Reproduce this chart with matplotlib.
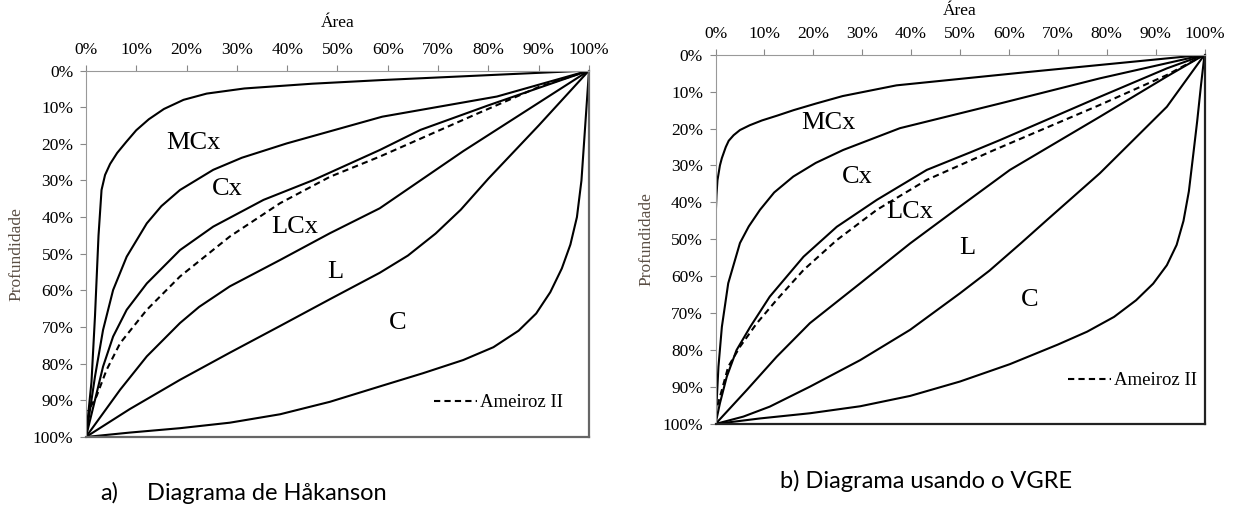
import matplotlib
matplotlib.use("Agg")
import matplotlib.pyplot as plt
import numpy as np

# (area %, depth %)
hak_mcx = [(100, 0), (58.9, 2.6), (45, 3.6), (31.5, 4.9), (24, 6.3), (19.4, 8), (15.5, 10.5),
           (12.5, 13.3), (10, 16.3), (8, 19.5), (6.2, 22.5), (4.8, 25.5), (3.8, 28.5),
           (3.1, 32.6), (2.5, 45), (1.8, 67), (1.1, 85), (0, 100)]
hak_cx = [(100, 0), (81.7, 7.1), (58.9, 12.6), (39.9, 19.9), (31, 23.8), (25.3, 27.1),
          (18.7, 32.6), (15, 37), (12.1, 41.7), (8.1, 50.8), (5.4, 59.9), (3.4, 70.8),
          (1.8, 83.5), (0, 100)]
hak_lcx = [(100, 0), (80, 9.5), (66.5, 16.2), (58.4, 21.7), (45.2, 29.9), (35.3, 35.3),
           (25.3, 42.6), (18.7, 49), (12.1, 58.1), (8.1, 65.3), (5.4, 72.6), (3.4, 80.8),
           (1.8, 89.9), (0, 100)]
hak_l = [(100, 0), (75, 22), (58.4, 37.6), (48.5, 44.4), (38.6, 51.7), (28.6, 58.9),
         (22.5, 64.5), (18.7, 68.9), (12.1, 78), (6.8, 87.1), (0, 100)]
hak_lc = [(100, 0), (90, 15), (80, 29.5), (74.5, 38), (69.5, 44.5), (64, 50.5), (58.4, 55.2),
          (48.5, 62.4), (38.6, 69.7), (28.6, 77), (18.7, 84.4), (8.7, 92.4), (0, 100)]
hak_c = [(100, 0), (99.5, 10), (99, 20), (98.5, 30), (97.6, 40), (96.3, 47.5), (94.6, 54),
         (92.3, 60.5), (89.5, 66.3), (86, 71), (81, 75.5), (75, 79), (67, 82.6), (58.9, 86),
         (48.5, 90.4), (38.6, 93.8), (28.6, 96.1), (18.7, 97.6), (8.7, 98.8), (0, 100)]
hak_ameiroz = [(100, 0), (90, 4.5), (77.9, 11.7), (58.4, 23.5), (48.5, 29), (38.6, 36.2),
               (28.6, 45.3), (18.7, 56.2), (12.1, 65.3), (6.8, 74.4), (4.1, 81.7),
               (2.1, 88.9), (0.4, 93)]

vgre_mcx = [(100, 0), (63, 4.8), (37, 8.3), (26, 11.2), (20.6, 13.2), (16, 15), (12.6, 16.5),
            (9.5, 17.8), (7, 19.1), (5, 20.4), (3.7, 21.8), (2.7, 23.3), (2.1, 25), (1.3, 28),
            (0.9, 30), (0.4, 34), (0.2, 38), (0, 45), (0, 100)]
vgre_cx = [(100, 0), (78.6, 6.4), (58.2, 13.2), (37.7, 19.9), (26.1, 25.8), (20.5, 29.3),
           (15.9, 33), (12, 37.3), (9.1, 42), (6.8, 46.5), (5, 51), (2.6, 61.9), (1.3, 73.7),
           (0.6, 84.5), (0, 100)]
vgre_lcx = [(100, 0), (92.3, 3.7), (78.6, 11.4), (58.2, 23.1), (52, 26.5), (43.2, 31.2),
            (33, 39.3), (24.8, 46.6), (18, 54.7), (11.1, 65.5), (7.1, 73.7), (4.3, 80),
            (2.3, 87.2), (0.9, 94.4), (0, 100)]
vgre_l = [(100, 0), (92.3, 5.9), (78.6, 16.8), (60.2, 31.2), (50, 41.1), (39.8, 51.1),
          (29.6, 61.9), (19.3, 72.7), (12.5, 81.8), (6.4, 90.8), (0, 100)]
vgre_lc = [(100, 0), (92.3, 14.1), (78.6, 32.1), (68, 44.5), (62.5, 51), (56, 58.5),
           (50, 64.6), (39.8, 74.5), (29.6, 82.7), (19.3, 89.9), (11.1, 95.3), (5.7, 98),
           (0, 100)]
vgre_c = [(100, 0), (99.3, 8), (98.5, 18), (97.7, 27), (96.8, 37), (95.7, 45), (94.3, 51.5),
          (92.3, 57), (89.5, 62), (86, 66.5), (81.5, 71), (76, 75), (70, 78.5), (60.2, 83.8),
          (50, 88.5), (39.8, 92.4), (29.6, 95.2), (19.3, 97.1), (9.1, 98.5), (0, 100)]
vgre_ameiroz = [(100, 0), (92.3, 5.5), (78.6, 13.6), (57, 25.8), (43.2, 33.9), (33, 42),
                (24.8, 50.2), (18, 58.3), (12.5, 66.4), (8.4, 72.8), (5, 79.1), (2.6, 84.5),
                (1.3, 90.8), (0.4, 95)]

class_labels = ["MCx", "Cx", "LCx", "L", "C"]
hak_label_pos = [(21.3, 19.8), (28.2, 32.4), (41.5, 42.6), (49.5, 54.9), (62, 69)]
vgre_label_pos = [(23, 18.5), (29.1, 33), (39.8, 42.5), (51.4, 52.4), (64.3, 66.4)]

pct_ticks = list(range(0, 101, 10))
pct_labels = ["%d%%" % t for t in pct_ticks]

serif = ["Liberation Serif", "DejaVu Serif"]
plt.rcParams['font.family'] = serif


def draw_panel(ax, curves, dashed, label_pos, frame_col, leg_anchor, xlabpad):
    for crv in curves:
        a, d = zip(*crv)
        ax.plot(a, d, color='black', lw=1.5, solid_joinstyle='round')
    a, d = zip(*dashed)
    ax.plot(a, d, color='black', lw=1.5, linestyle=(0, (3, 2)), label='Ameiroz II')
    for txt, (x, y) in zip(class_labels, label_pos):
        ax.text(x, y, txt, fontsize=19, ha='center', va='center', family=serif)
    ax.set_xlim(0, 100)
    ax.set_ylim(100, 0)
    ax.xaxis.tick_top()
    ax.xaxis.set_label_position('top')
    ax.set_xticks(pct_ticks)
    ax.set_xticklabels(pct_labels, fontfamily=serif)
    ax.set_yticks(pct_ticks)
    ax.set_yticklabels(pct_labels, fontfamily=serif)
    ax.tick_params(direction='out', length=4, width=0.8, color='#888888',
                   labelsize=12.5, pad=5)
    ax.set_xlabel("Área", fontsize=12.5, labelpad=xlabpad, family=serif)
    ax.set_ylabel("Profundidade", fontsize=12.5, color='#5a4e44', labelpad=6, family=serif)
    ax.spines['top'].set_color('#999999')
    ax.spines['left'].set_color('#999999')
    ax.spines['right'].set_color(frame_col)
    ax.spines['bottom'].set_color(frame_col)
    ax.spines['right'].set_linewidth(1.6)
    ax.spines['bottom'].set_linewidth(1.6)
    ax.legend(loc='center', bbox_to_anchor=leg_anchor, frameon=False,
              prop={'family': serif, 'size': 13.5},
              handlelength=2.3, handletextpad=0.15, borderpad=0)


fig = plt.figure(figsize=(12.33, 5.08), dpi=100)
ax1 = fig.add_axes([0.0697, 0.1398, 0.408, 0.7214])
ax2 = fig.add_axes([0.5803, 0.1654, 0.3966, 0.7269])

draw_panel(ax1, [hak_mcx, hak_cx, hak_lcx, hak_l, hak_lc, hak_c], hak_ameiroz,
           hak_label_pos, '#666666', (0.82, 0.093), 11)
draw_panel(ax2, [vgre_mcx, vgre_cx, vgre_lcx, vgre_l, vgre_lc, vgre_c], vgre_ameiroz,
           vgre_label_pos, '#222222', (0.853, 0.117), 8)

cap_font = ["Lato", "DejaVu Sans"]
fig.text(100 / 1233, 1 - 493 / 508, "a)", fontsize=17, family=cap_font, va='center')
fig.text(147 / 1233, 1 - 493 / 508, "Diagrama de Håkanson", fontsize=17,
         family=cap_font, va='center')
fig.text(926 / 1233, 1 - 481 / 508, "b) Diagrama usando o VGRE", fontsize=17,
         family=cap_font, va='center', ha='center')

fig.savefig("out.png", dpi=100)
